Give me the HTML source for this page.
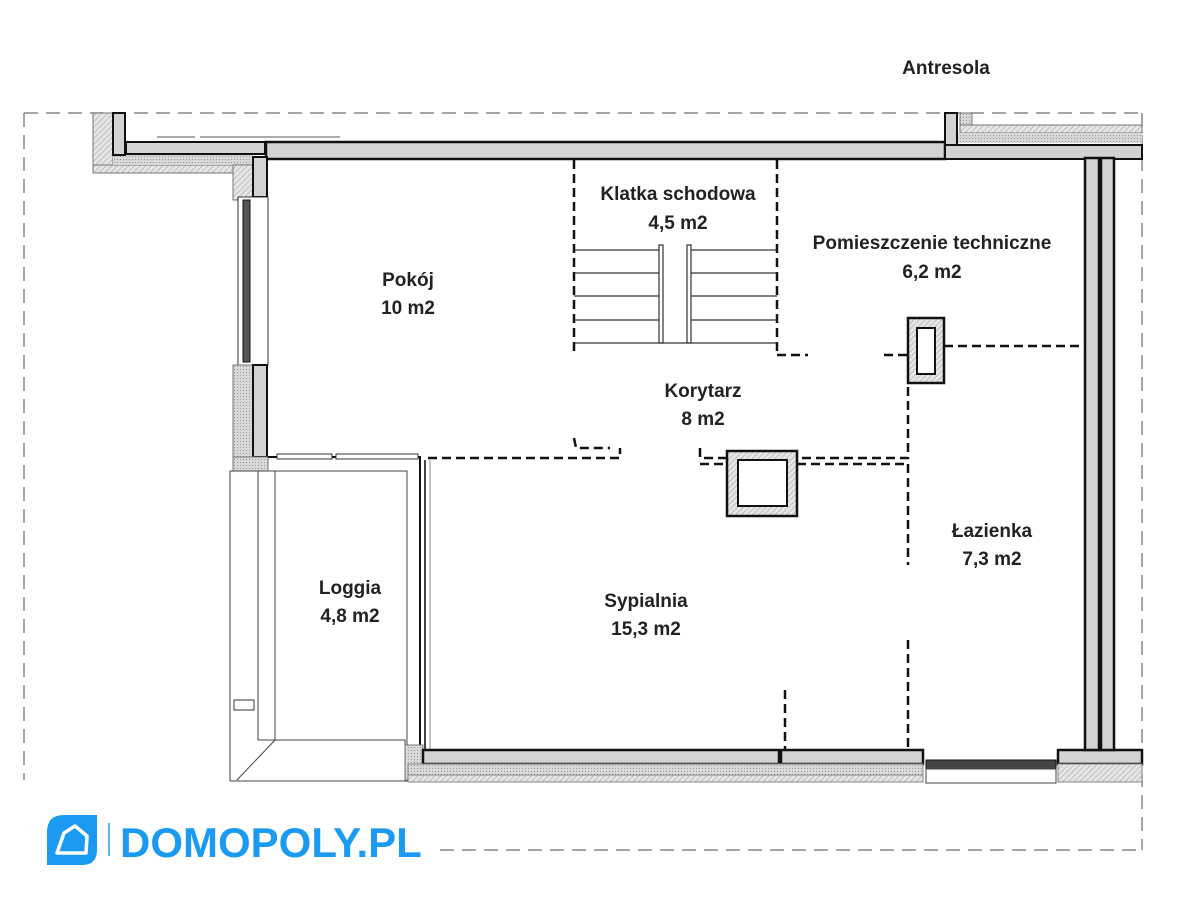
<!DOCTYPE html>
<html><head><meta charset="utf-8"><style>
html,body{margin:0;padding:0;background:#fff;width:1200px;height:897px;overflow:hidden}
svg{display:block}
text{font-family:"Liberation Sans",sans-serif;font-weight:bold;fill:#222;font-size:19px;text-anchor:middle}
</style></head><body>
<svg width="1200" height="897" viewBox="0 0 1200 897" xmlns="http://www.w3.org/2000/svg">
<defs>
<pattern id="h" width="4" height="4" patternUnits="userSpaceOnUse" patternTransform="rotate(45)">
<rect width="4" height="4" fill="#e6e6e6"/><line x1="0" y1="0" x2="0" y2="4" stroke="#999" stroke-width="1"/></pattern>
<pattern id="d" width="3" height="3" patternUnits="userSpaceOnUse"><rect width="3" height="3" fill="#d8d8d8"/><rect width="1" height="1" fill="#999"/></pattern>
</defs>
<g stroke="#888" stroke-width="1.5" stroke-dasharray="14,8" fill="none">
<line x1="24" y1="113" x2="1142" y2="113"/>
<line x1="24" y1="113" x2="24" y2="780"/>
<line x1="1142" y1="113" x2="1142" y2="850"/>
<line x1="440" y1="850" x2="1142" y2="850"/>
</g>
<rect x="93" y="113" width="20" height="60" fill="url(#h)" stroke="#777"/>
<rect x="93" y="165" width="160" height="8" fill="url(#h)" stroke="#777"/>
<rect x="113" y="153" width="140" height="12" fill="url(#d)"/>
<rect x="233" y="165" width="20" height="35" fill="url(#h)" stroke="#777"/>
<rect x="113" y="113" width="12" height="42" fill="#d3d3d3" stroke="#111" stroke-width="2"/>
<rect x="126" y="142" width="139" height="12" fill="#d3d3d3" stroke="#111" stroke-width="2"/>
<rect x="266" y="142" width="679" height="17" fill="#d3d3d3" stroke="#111" stroke-width="2.5"/>
<line x1="157" y1="137" x2="195" y2="137" stroke="#555"/><line x1="200" y1="137" x2="340" y2="137" stroke="#555"/>
<rect x="945" y="113" width="12" height="45" fill="#d3d3d3" stroke="#111" stroke-width="2"/>
<rect x="960" y="113" width="12" height="20" fill="url(#d)" stroke="#777"/>
<rect x="960" y="125" width="182" height="8" fill="url(#h)" stroke="#777"/>
<rect x="958" y="133" width="184" height="10" fill="url(#d)"/>
<rect x="945" y="145" width="197" height="14" fill="#d3d3d3" stroke="#111" stroke-width="2"/>
<rect x="253" y="157" width="14" height="40" fill="#d3d3d3" stroke="#111" stroke-width="2"/>
<rect x="238" y="197" width="30" height="168" fill="#fff" stroke="#333"/>
<rect x="243" y="200" width="7" height="162" fill="#555" stroke="#111"/>
<rect x="233" y="365" width="20" height="100" fill="url(#d)" stroke="#777"/>
<rect x="253" y="365" width="14" height="92" fill="#d3d3d3" stroke="#111" stroke-width="2"/>
<rect x="233" y="457" width="35" height="14" fill="url(#d)" stroke="#777"/>
<polyline points="268,457 420,457 420,750" fill="none" stroke="#111" stroke-width="2"/>
<rect x="277" y="454" width="55" height="5" fill="#fff" stroke="#333"/>
<rect x="336" y="454" width="82" height="5" fill="#fff" stroke="#333"/>
<rect x="230" y="471" width="177" height="310" fill="none" stroke="#444"/>
<line x1="258" y1="471" x2="258" y2="740" stroke="#444"/>
<line x1="275" y1="471" x2="275" y2="740" stroke="#444"/>
<polyline points="258,740 405,740 405,750" fill="none" stroke="#444"/>
<line x1="275" y1="740" x2="237" y2="780" stroke="#444"/>
<rect x="234" y="700" width="20" height="10" fill="#fff" stroke="#333"/>
<line x1="425" y1="460" x2="425" y2="750" stroke="#444" stroke-width="2"/>
<line x1="430" y1="460" x2="430" y2="750" stroke="#888"/>
<rect x="405" y="745" width="18" height="35" fill="url(#d)" stroke="#777"/>
<rect x="423" y="750" width="356" height="14" fill="#d3d3d3" stroke="#111" stroke-width="2.5"/>
<rect x="781" y="750" width="142" height="14" fill="#d3d3d3" stroke="#111" stroke-width="2.5"/>
<rect x="408" y="764" width="515" height="11" fill="url(#d)" stroke="#888"/>
<rect x="408" y="775" width="515" height="7" fill="url(#h)" stroke="#888"/>
<rect x="926" y="760" width="130" height="9" fill="#444" stroke="#111"/>
<rect x="926" y="769" width="130" height="14" fill="#fff" stroke="#444"/>
<rect x="1058" y="750" width="84" height="14" fill="#d3d3d3" stroke="#111" stroke-width="2.5"/>
<rect x="1058" y="764" width="84" height="18" fill="url(#h)" stroke="#888"/>
<rect x="1085" y="158" width="14" height="592" fill="#d3d3d3" stroke="#111" stroke-width="2.5"/>
<rect x="1101" y="158" width="13" height="592" fill="#d3d3d3" stroke="#111" stroke-width="2.5"/>
<g stroke="#111" stroke-width="2.5" stroke-dasharray="9,5" fill="none">
<line x1="574" y1="160" x2="574" y2="355"/>
<line x1="777" y1="160" x2="777" y2="355"/>
<polyline points="777,355 808,355"/>
<polyline points="428,458 620,458 620,448"/>
<polyline points="700,448 700,458 908,458 908,383"/>
<line x1="908" y1="464" x2="908" y2="565"/>
<line x1="908" y1="640" x2="908" y2="750"/>
<line x1="785" y1="690" x2="785" y2="750"/>
<line x1="944" y1="346" x2="1085" y2="346"/>
<line x1="884" y1="355" x2="908" y2="355"/>
<line x1="797" y1="464" x2="908" y2="464"/>
<line x1="700" y1="464" x2="727" y2="464"/>
<polyline points="574,438 576,448 610,448"/>
</g>
<g stroke="#333" stroke-width="1.2">
<line x1="574" y1="250" x2="661" y2="250"/><line x1="574" y1="273" x2="661" y2="273"/><line x1="574" y1="296" x2="661" y2="296"/><line x1="574" y1="320" x2="661" y2="320"/>
<line x1="688" y1="250" x2="777" y2="250"/><line x1="688" y1="273" x2="777" y2="273"/><line x1="688" y1="296" x2="777" y2="296"/><line x1="688" y1="320" x2="777" y2="320"/>
<rect x="659" y="245" width="4" height="98" fill="#fff"/><rect x="687" y="245" width="4" height="98" fill="#fff"/>
<line x1="574" y1="343" x2="777" y2="343"/>
</g>
<rect x="908" y="318" width="36" height="65" fill="url(#h)" stroke="#111" stroke-width="2.5"/>
<rect x="917" y="328" width="18" height="46" fill="#fff" stroke="#111" stroke-width="2"/>
<rect x="727" y="451" width="70" height="65" fill="url(#h)" stroke="#111" stroke-width="2.5"/>
<rect x="738" y="460" width="49" height="46" fill="#fff" stroke="#111" stroke-width="2"/>
<text x="946" y="74">Antresola</text>
<text x="678" y="200">Klatka schodowa</text>
<text x="678" y="229">4,5 m2</text>
<text x="932" y="249">Pomieszczenie techniczne</text>
<text x="932" y="278">6,2 m2</text>
<text x="408" y="286">Pokój</text>
<text x="408" y="314">10 m2</text>
<text x="703" y="397">Korytarz</text>
<text x="703" y="425">8 m2</text>
<text x="992" y="537">Łazienka</text>
<text x="992" y="565">7,3 m2</text>
<text x="350" y="594">Loggia</text>
<text x="350" y="622">4,8 m2</text>
<text x="646" y="607">Sypialnia</text>
<text x="646" y="635">15,3 m2</text>
<path d="M47 832 Q47 815 64 815 L97 815 L97 850 Q97 865 82 865 L47 865 Z" fill="#1a9af0"/>
<path d="M57 853 L64 833 L75 826 L87 836 L86 853 Z" fill="none" stroke="#fff" stroke-width="3.5" stroke-linejoin="round"/>
<line x1="109" y1="823" x2="109" y2="856" stroke="#1a9af0" stroke-width="1.5"/>
<text x="120" y="857" style="font-size:42px;fill:#1a9af0;text-anchor:start;font-weight:bold">DOMOPOLY.PL</text>
</svg>
</body></html>
